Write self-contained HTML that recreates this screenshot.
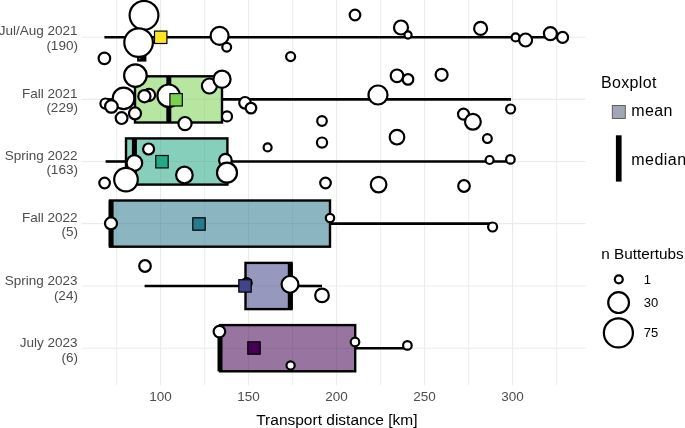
<!DOCTYPE html>
<html><head><meta charset="utf-8"><style>
html,body{margin:0;padding:0;background:#fff;width:685px;height:428px;overflow:hidden}
svg{display:block;will-change:transform;font-family:"Liberation Sans",sans-serif}
</style></head><body>
<svg width="685" height="428" viewBox="0 0 685 428">
<rect width="685" height="428" fill="#fff"/>
<line x1="116.60" y1="0" x2="116.60" y2="385.3" stroke="#EBEBEB" stroke-width="0.9"/>
<line x1="160.60" y1="0" x2="160.60" y2="385.3" stroke="#EBEBEB" stroke-width="1.1"/>
<line x1="204.60" y1="0" x2="204.60" y2="385.3" stroke="#EBEBEB" stroke-width="0.9"/>
<line x1="248.60" y1="0" x2="248.60" y2="385.3" stroke="#EBEBEB" stroke-width="1.1"/>
<line x1="292.60" y1="0" x2="292.60" y2="385.3" stroke="#EBEBEB" stroke-width="0.9"/>
<line x1="336.60" y1="0" x2="336.60" y2="385.3" stroke="#EBEBEB" stroke-width="1.1"/>
<line x1="380.60" y1="0" x2="380.60" y2="385.3" stroke="#EBEBEB" stroke-width="0.9"/>
<line x1="424.60" y1="0" x2="424.60" y2="385.3" stroke="#EBEBEB" stroke-width="1.1"/>
<line x1="468.60" y1="0" x2="468.60" y2="385.3" stroke="#EBEBEB" stroke-width="0.9"/>
<line x1="512.60" y1="0" x2="512.60" y2="385.3" stroke="#EBEBEB" stroke-width="1.1"/>
<line x1="556.60" y1="0" x2="556.60" y2="385.3" stroke="#EBEBEB" stroke-width="0.9"/>
<line x1="81.5" y1="37.3" x2="585.6" y2="37.3" stroke="#EBEBEB" stroke-width="1.1"/>
<line x1="81.5" y1="99.4" x2="585.6" y2="99.4" stroke="#EBEBEB" stroke-width="1.1"/>
<line x1="81.5" y1="161.5" x2="585.6" y2="161.5" stroke="#EBEBEB" stroke-width="1.1"/>
<line x1="81.5" y1="223.6" x2="585.6" y2="223.6" stroke="#EBEBEB" stroke-width="1.1"/>
<line x1="81.5" y1="286.0" x2="585.6" y2="286.0" stroke="#EBEBEB" stroke-width="1.1"/>
<line x1="81.5" y1="348.2" x2="585.6" y2="348.2" stroke="#EBEBEB" stroke-width="1.1"/>
<line x1="104.4" y1="37.3" x2="138.3" y2="37.3" stroke="#000" stroke-width="2.6"/>
<line x1="145.2" y1="37.3" x2="562.6" y2="37.3" stroke="#000" stroke-width="2.6"/>
<rect x="138.3" y="14.20" width="6.90" height="46.20" fill="#FDE725" fill-opacity="0.55" stroke="#000" stroke-width="2.4"/>
<line x1="142.6" y1="14.20" x2="142.6" y2="60.40" stroke="#000" stroke-width="5"/>
<line x1="105.5" y1="99.4" x2="135.0" y2="99.4" stroke="#000" stroke-width="2.6"/>
<line x1="222.0" y1="99.4" x2="511.0" y2="99.4" stroke="#000" stroke-width="2.6"/>
<rect x="135.0" y="76.30" width="87.00" height="46.20" fill="#7AD151" fill-opacity="0.55" stroke="#000" stroke-width="2.4"/>
<line x1="168.8" y1="76.30" x2="168.8" y2="122.50" stroke="#000" stroke-width="5"/>
<line x1="105.6" y1="161.5" x2="126.0" y2="161.5" stroke="#000" stroke-width="2.6"/>
<line x1="227.4" y1="161.5" x2="510.4" y2="161.5" stroke="#000" stroke-width="2.6"/>
<rect x="126.0" y="138.40" width="101.40" height="46.20" fill="#22A884" fill-opacity="0.55" stroke="#000" stroke-width="2.4"/>
<line x1="134.4" y1="138.40" x2="134.4" y2="184.60" stroke="#000" stroke-width="5"/>
<line x1="111.0" y1="223.6" x2="110.0" y2="223.6" stroke="#000" stroke-width="2.6"/>
<line x1="330.0" y1="223.6" x2="492.6" y2="223.6" stroke="#000" stroke-width="2.6"/>
<rect x="110.0" y="200.50" width="220.00" height="46.20" fill="#2A788E" fill-opacity="0.55" stroke="#000" stroke-width="2.4"/>
<line x1="111.1" y1="200.50" x2="111.1" y2="246.70" stroke="#000" stroke-width="5"/>
<line x1="144.6" y1="286.0" x2="245.5" y2="286.0" stroke="#000" stroke-width="2.6"/>
<line x1="291.5" y1="286.0" x2="322.0" y2="286.0" stroke="#000" stroke-width="2.6"/>
<rect x="245.5" y="262.90" width="46.00" height="46.20" fill="#414487" fill-opacity="0.55" stroke="#000" stroke-width="2.4"/>
<line x1="290.3" y1="262.90" x2="290.3" y2="309.10" stroke="#000" stroke-width="5"/>
<line x1="219.4" y1="348.2" x2="220.0" y2="348.2" stroke="#000" stroke-width="2.6"/>
<line x1="355.2" y1="348.2" x2="407.4" y2="348.2" stroke="#000" stroke-width="2.6"/>
<rect x="220.0" y="325.10" width="135.20" height="46.20" fill="#440154" fill-opacity="0.55" stroke="#000" stroke-width="2.4"/>
<line x1="220.0" y1="325.10" x2="220.0" y2="371.30" stroke="#000" stroke-width="5"/>
<circle cx="144" cy="15.3" r="14.40" fill="#fff" stroke="#000" stroke-width="2.2"/>
<circle cx="138.6" cy="42.6" r="14.30" fill="#fff" stroke="#000" stroke-width="2.2"/>
<circle cx="104.4" cy="58.4" r="5.80" fill="#fff" stroke="#000" stroke-width="2.2"/>
<circle cx="219.6" cy="35.8" r="9.00" fill="#fff" stroke="#000" stroke-width="2.2"/>
<circle cx="226.7" cy="47.2" r="4.40" fill="#fff" stroke="#000" stroke-width="2.2"/>
<circle cx="290.6" cy="56.6" r="4.50" fill="#fff" stroke="#000" stroke-width="2.2"/>
<circle cx="355" cy="15" r="5.30" fill="#fff" stroke="#000" stroke-width="2.2"/>
<circle cx="401" cy="27.5" r="7.00" fill="#fff" stroke="#000" stroke-width="2.2"/>
<circle cx="408" cy="35" r="3.60" fill="#fff" stroke="#000" stroke-width="2.2"/>
<circle cx="480.6" cy="28.4" r="6.50" fill="#fff" stroke="#000" stroke-width="2.2"/>
<circle cx="515.6" cy="37.4" r="4.00" fill="#fff" stroke="#000" stroke-width="2.2"/>
<circle cx="525.6" cy="40" r="6.50" fill="#fff" stroke="#000" stroke-width="2.2"/>
<circle cx="550.4" cy="33.6" r="6.50" fill="#fff" stroke="#000" stroke-width="2.2"/>
<circle cx="562.6" cy="37.4" r="5.50" fill="#fff" stroke="#000" stroke-width="2.2"/>
<circle cx="135.4" cy="75.6" r="11.30" fill="#fff" stroke="#000" stroke-width="2.2"/>
<circle cx="123.6" cy="98.4" r="10.80" fill="#fff" stroke="#000" stroke-width="2.2"/>
<circle cx="105.5" cy="103.6" r="5.10" fill="#fff" stroke="#000" stroke-width="2.2"/>
<circle cx="111.4" cy="106.4" r="6.30" fill="#fff" stroke="#000" stroke-width="2.2"/>
<circle cx="121.6" cy="118.1" r="5.90" fill="#fff" stroke="#000" stroke-width="2.2"/>
<circle cx="135" cy="113.4" r="6.00" fill="#fff" stroke="#000" stroke-width="2.2"/>
<circle cx="149" cy="95" r="6.10" fill="#fff" stroke="#000" stroke-width="2.2"/>
<circle cx="144.4" cy="96.2" r="6.10" fill="#fff" stroke="#000" stroke-width="2.2"/>
<circle cx="168.6" cy="95.7" r="11.20" fill="#fff" stroke="#000" stroke-width="2.2"/>
<circle cx="185" cy="123.6" r="6.60" fill="#fff" stroke="#000" stroke-width="2.2"/>
<circle cx="209.4" cy="86" r="7.50" fill="#fff" stroke="#000" stroke-width="2.2"/>
<circle cx="222" cy="79.2" r="8.60" fill="#fff" stroke="#000" stroke-width="2.2"/>
<circle cx="245" cy="102.8" r="5.80" fill="#fff" stroke="#000" stroke-width="2.2"/>
<circle cx="251" cy="108.1" r="5.30" fill="#fff" stroke="#000" stroke-width="2.2"/>
<circle cx="227" cy="116.4" r="5.00" fill="#fff" stroke="#000" stroke-width="2.2"/>
<circle cx="322" cy="121" r="4.80" fill="#fff" stroke="#000" stroke-width="2.2"/>
<circle cx="378" cy="95" r="9.50" fill="#fff" stroke="#000" stroke-width="2.2"/>
<circle cx="397" cy="75.8" r="6.30" fill="#fff" stroke="#000" stroke-width="2.2"/>
<circle cx="408" cy="79.4" r="5.30" fill="#fff" stroke="#000" stroke-width="2.2"/>
<circle cx="441.6" cy="74.8" r="6.00" fill="#fff" stroke="#000" stroke-width="2.2"/>
<circle cx="463.5" cy="114.1" r="5.50" fill="#fff" stroke="#000" stroke-width="2.2"/>
<circle cx="472.9" cy="121.8" r="7.90" fill="#fff" stroke="#000" stroke-width="2.2"/>
<circle cx="510.6" cy="109" r="4.50" fill="#fff" stroke="#000" stroke-width="2.2"/>
<circle cx="148.6" cy="149" r="5.50" fill="#fff" stroke="#000" stroke-width="2.2"/>
<circle cx="134.4" cy="163" r="7.80" fill="#fff" stroke="#000" stroke-width="2.2"/>
<circle cx="126" cy="179.6" r="11.80" fill="#fff" stroke="#000" stroke-width="2.2"/>
<circle cx="104.6" cy="183" r="5.30" fill="#fff" stroke="#000" stroke-width="2.2"/>
<circle cx="184.4" cy="175" r="8.30" fill="#fff" stroke="#000" stroke-width="2.2"/>
<circle cx="225.4" cy="160.2" r="6.30" fill="#fff" stroke="#000" stroke-width="2.2"/>
<circle cx="227" cy="172.7" r="10.00" fill="#fff" stroke="#000" stroke-width="2.2"/>
<circle cx="267.6" cy="147.4" r="4.00" fill="#fff" stroke="#000" stroke-width="2.2"/>
<circle cx="322" cy="142.6" r="5.10" fill="#fff" stroke="#000" stroke-width="2.2"/>
<circle cx="325.5" cy="183" r="5.30" fill="#fff" stroke="#000" stroke-width="2.2"/>
<circle cx="378.6" cy="184.6" r="7.80" fill="#fff" stroke="#000" stroke-width="2.2"/>
<circle cx="397" cy="137.2" r="7.30" fill="#fff" stroke="#000" stroke-width="2.2"/>
<circle cx="464" cy="186" r="5.80" fill="#fff" stroke="#000" stroke-width="2.2"/>
<circle cx="487.4" cy="138.6" r="4.40" fill="#fff" stroke="#000" stroke-width="2.2"/>
<circle cx="489.6" cy="160" r="4.00" fill="#fff" stroke="#000" stroke-width="2.2"/>
<circle cx="510.4" cy="159.4" r="4.30" fill="#fff" stroke="#000" stroke-width="2.2"/>
<circle cx="111" cy="223.4" r="6.00" fill="#fff" stroke="#000" stroke-width="2.2"/>
<circle cx="330" cy="218" r="4.20" fill="#fff" stroke="#000" stroke-width="2.2"/>
<circle cx="492.6" cy="227" r="4.50" fill="#fff" stroke="#000" stroke-width="2.2"/>
<circle cx="145" cy="266" r="5.80" fill="#fff" stroke="#000" stroke-width="2.2"/>
<circle cx="246.7" cy="283.0" r="5.00" fill="#fff" stroke="#000" stroke-width="2.2"/>
<circle cx="290" cy="284.4" r="8.40" fill="#fff" stroke="#000" stroke-width="2.2"/>
<circle cx="322" cy="295.4" r="6.80" fill="#fff" stroke="#000" stroke-width="2.2"/>
<circle cx="219.4" cy="331.6" r="5.80" fill="#fff" stroke="#000" stroke-width="2.2"/>
<circle cx="290.6" cy="365.4" r="4.10" fill="#fff" stroke="#000" stroke-width="2.2"/>
<circle cx="355" cy="342" r="4.30" fill="#fff" stroke="#000" stroke-width="2.2"/>
<circle cx="407.4" cy="345.4" r="4.30" fill="#fff" stroke="#000" stroke-width="2.2"/>
<rect x="154.50" y="31.10" width="12.4" height="12.4" fill="#FDE725" stroke="#000" stroke-width="1.2"/>
<rect x="169.90" y="93.60" width="12.4" height="12.4" fill="#7AD151" stroke="#000" stroke-width="1.2"/>
<rect x="155.80" y="155.50" width="12.4" height="12.4" fill="#22A884" stroke="#000" stroke-width="1.2"/>
<rect x="192.80" y="217.80" width="12.4" height="12.4" fill="#2A788E" stroke="#000" stroke-width="1.2"/>
<rect x="238.80" y="279.70" width="12.4" height="12.4" fill="#414487" stroke="#000" stroke-width="1.2"/>
<rect x="247.80" y="341.80" width="12.4" height="12.4" fill="#440154" stroke="#000" stroke-width="1.2"/>
<text x="77.6" y="35.4" text-anchor="end" font-size="13.5" fill="#4D4D4D">Jul/Aug 2021</text>
<text x="77.9" y="50.1" text-anchor="end" font-size="13.5" fill="#4D4D4D">(190)</text>
<text x="77.6" y="97.5" text-anchor="end" font-size="13.5" fill="#4D4D4D">Fall 2021</text>
<text x="77.9" y="112.2" text-anchor="end" font-size="13.5" fill="#4D4D4D">(229)</text>
<text x="77.6" y="159.6" text-anchor="end" font-size="13.5" fill="#4D4D4D">Spring 2022</text>
<text x="77.9" y="174.3" text-anchor="end" font-size="13.5" fill="#4D4D4D">(163)</text>
<text x="77.6" y="221.7" text-anchor="end" font-size="13.5" fill="#4D4D4D">Fall 2022</text>
<text x="77.9" y="236.4" text-anchor="end" font-size="13.5" fill="#4D4D4D">(5)</text>
<text x="77.6" y="284.8" text-anchor="end" font-size="13.5" fill="#4D4D4D">Spring 2023</text>
<text x="77.9" y="299.5" text-anchor="end" font-size="13.5" fill="#4D4D4D">(24)</text>
<text x="77.6" y="347.3" text-anchor="end" font-size="13.5" fill="#4D4D4D">July 2023</text>
<text x="77.9" y="362.0" text-anchor="end" font-size="13.5" fill="#4D4D4D">(6)</text>
<text x="160.60" y="400.8" text-anchor="middle" font-size="13.5" fill="#4D4D4D">100</text>
<text x="248.60" y="400.8" text-anchor="middle" font-size="13.5" fill="#4D4D4D">150</text>
<text x="336.60" y="400.8" text-anchor="middle" font-size="13.5" fill="#4D4D4D">200</text>
<text x="424.60" y="400.8" text-anchor="middle" font-size="13.5" fill="#4D4D4D">250</text>
<text x="512.60" y="400.8" text-anchor="middle" font-size="13.5" fill="#4D4D4D">300</text>
<text x="336.9" y="424.9" text-anchor="middle" font-size="15.5" fill="#000">Transport distance [km]</text>
<text x="601" y="87.5" font-size="16" letter-spacing="0.35" fill="#000">Boxplot</text>
<rect x="612.3" y="105.5" width="13" height="13" fill="#A0A6B4" stroke="#555" stroke-width="0.9"/>
<text x="631.3" y="116" font-size="16" letter-spacing="0.4" fill="#000">mean</text>
<rect x="615.9" y="135.3" width="5.7" height="46.3" fill="#000"/>
<text x="631.2" y="164.8" font-size="16" letter-spacing="0.5" fill="#000">median</text>
<text x="601.2" y="258.6" font-size="15.3" fill="#000">n Buttertubs</text>
<circle cx="618.8" cy="279.3" r="4.00" fill="#fff" stroke="#000" stroke-width="2.2"/>
<text x="643.8" y="283.8" font-size="13" fill="#000">1</text>
<circle cx="618.6" cy="302.6" r="10.40" fill="#fff" stroke="#000" stroke-width="2.2"/>
<text x="643.8" y="307.1" font-size="13" fill="#000">30</text>
<circle cx="618.4" cy="332.9" r="14.50" fill="#fff" stroke="#000" stroke-width="2.2"/>
<text x="643.8" y="337.4" font-size="13" fill="#000">75</text>
</svg>
</body></html>
